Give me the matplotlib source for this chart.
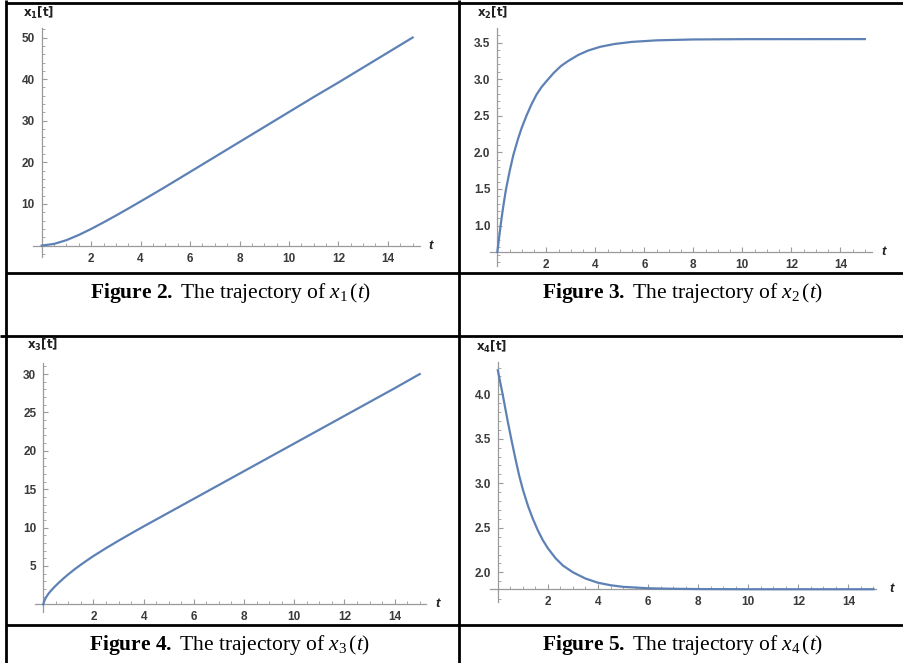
import numpy as np
import matplotlib
matplotlib.use("Agg")
import matplotlib.pyplot as plt
from matplotlib.lines import Line2D
from matplotlib.ticker import FixedLocator

plt.rcParams['mathtext.fontset'] = 'custom'
plt.rcParams['mathtext.rm'] = 'Liberation Serif'
plt.rcParams['mathtext.it'] = 'Liberation Serif:italic'
plt.rcParams['mathtext.bf'] = 'Liberation Serif:bold'

# ---------------- data ----------------
t_x1 = [0, 0.5, 1, 1.5, 2, 2.5, 3, 3.5, 4, 4.5, 5, 6, 7, 8, 9, 10, 11, 12, 13, 14, 15]
x1 = [0, 0.4, 1.3, 2.55, 4.0, 5.57, 7.21, 8.89, 10.61, 12.35, 14.11,
      17.7, 21.3, 24.9, 28.5, 32.1, 35.7, 39.2, 42.8, 46.4, 50.0]

t_x2 = [0, 0.08, 0.16, 0.25, 0.35, 0.5, 0.65, 0.85, 1.0, 1.2, 1.4, 1.6, 1.8, 2.0,
        2.3, 2.6, 2.9, 3.3, 3.7, 4.2, 4.8, 5.5, 6.5, 8, 10, 15]
x2 = [0.64, 0.86, 1.07, 1.28, 1.49, 1.74, 1.96, 2.19, 2.34, 2.51, 2.66, 2.79, 2.89, 2.97,
      3.085, 3.18, 3.25, 3.33, 3.39, 3.442, 3.481, 3.509, 3.53, 3.542, 3.546, 3.547]

t_x3 = [0, 0.05, 0.1, 0.2, 0.3, 0.45, 0.6, 0.8, 1.0, 1.25, 1.5, 1.75, 2, 2.5, 3, 3.5, 4,
        5, 6, 7, 8, 9, 10, 11, 12, 13, 14, 15]
x3 = [0, 0.5, 0.85, 1.35, 1.75, 2.275, 2.755, 3.355, 3.915, 4.565, 5.165, 5.74, 6.29,
      7.315, 8.29, 9.23, 10.15, 11.95, 13.75, 15.55, 17.35, 19.15, 20.95, 22.75, 24.55,
      26.35, 28.15, 30.0]

t_x4 = [0, 0.1, 0.2, 0.3, 0.4, 0.55, 0.7, 0.85, 1.0, 1.2, 1.4, 1.6, 1.8, 2.0, 2.3, 2.6,
        3.0, 3.5, 4.0, 4.5, 5.0, 6, 7, 8, 10, 15]
x4 = [4.27, 4.13, 3.99, 3.84, 3.69, 3.48, 3.28, 3.09, 2.93, 2.75, 2.60, 2.47, 2.36, 2.27,
      2.16, 2.076, 2.00, 1.93, 1.883, 1.855, 1.837, 1.821, 1.815, 1.812, 1.81, 1.81]

x_major = [2, 4, 6, 8, 10, 12, 14]
x_major_labels = ["2", "4", "6", "8", "10", "12", "14"]

y1_major = [10, 20, 30, 40, 50]
y1_labels = ["10", "20", "30", "40", "50"]
y2_major = [1.0, 1.5, 2.0, 2.5, 3.0, 3.5]
y2_labels = ["1.0", "1.5", "2.0", "2.5", "3.0", "3.5"]
y3_major = [5, 10, 15, 20, 25, 30]
y3_labels = ["5", "10", "15", "20", "25", "30"]
y4_major = [2.0, 2.5, 3.0, 3.5, 4.0]
y4_labels = ["2.0", "2.5", "3.0", "3.5", "4.0"]

subs = ["1", "2", "3", "4"]
fig_nums = ["2", "3", "4", "5"]

# ---------------- figure ----------------
W, H = 904, 663
fig = plt.figure(figsize=(W / 100, H / 100), dpi=100)
fig.patch.set_facecolor("white")

LINE = "#5E81B5"
AXC = "#9a9a9a"
TXT = "#3a3a3a"


def hline(y, x0, x1_, lw=2.0):
    fig.add_artist(Line2D([x0 / W, x1_ / W], [1 - y / H, 1 - y / H],
                          transform=fig.transFigure, color="black", lw=lw,
                          solid_capstyle="butt"))


def vline(x, y0, y1_, lw=2.0):
    fig.add_artist(Line2D([x / W, x / W], [1 - y0 / H, 1 - y1_ / H],
                          transform=fig.transFigure, color="black", lw=lw,
                          solid_capstyle="butt"))


def panel(box, xlim, ylim, yaxis_at, t, y, ymaj, ylab, ystep, sub,
          lab_off, t_off):
    l, r, tp, bt = box
    ax = fig.add_axes([l / W, 1 - bt / H, (r - l) / W, (bt - tp) / H])
    ax.set_facecolor("none")
    ax.plot(t, y, color=LINE, lw=1.6, clip_on=False, zorder=3)
    ax.set_xlim(*xlim)
    ax.set_ylim(*ylim)
    for s in ("top", "right"):
        ax.spines[s].set_visible(False)
    ax.spines["left"].set_position(("data", 0))
    ax.spines["bottom"].set_position(("data", yaxis_at))
    for s in ("left", "bottom"):
        ax.spines[s].set_color(AXC)
        ax.spines[s].set_linewidth(0.9)
    ax.xaxis.set_major_locator(FixedLocator(x_major))
    ax.set_xticklabels(x_major_labels, fontweight="bold",
                       family="Liberation Sans", color=TXT, fontsize=8.5)
    ax.xaxis.set_minor_locator(FixedLocator(list(np.arange(0.5, 15.01, 0.5))))
    ax.yaxis.set_major_locator(FixedLocator(ymaj))
    ax.set_yticklabels(ylab, fontweight="bold",
                       family="Liberation Sans", color=TXT, fontsize=8.5)
    lo = np.ceil((ylim[0]) / ystep) * ystep
    mins = [v for v in np.arange(lo, ylim[1], ystep)
            if abs(v - yaxis_at) > ystep * 0.3]
    ax.yaxis.set_minor_locator(FixedLocator(mins))
    ax.tick_params(which="major", direction="in", length=3.8, width=0.8,
                   color=AXC)
    ax.tick_params(which="minor", direction="in", length=2.0, width=0.6,
                   color=AXC)
    ax.tick_params(axis="x", which="major", pad=5)
    ax.tick_params(axis="y", which="major", pad=5)
    ax.annotate(r"$\mathbf{x_{" + sub + r"}[t]}$", xy=(0, 1),
                xycoords=("data", "axes fraction"),
                xytext=lab_off, textcoords="offset pixels",
                ha="center", va="center", fontsize=8.5,
                math_fontfamily="dejavusans", color="#202020")
    ax.annotate("t", xy=(1, yaxis_at), xycoords=("axes fraction", "data"),
                xytext=t_off, textcoords="offset pixels",
                ha="center", va="center", fontsize=9.5, fontweight="bold",
                fontstyle="italic", family="Liberation Sans", color="#202020")
    return ax


# panel boxes in pixels: left, right, top, bottom
panel((32.8, 420.0, 28.0, 256.8), (-0.36, 15.3), (-2.7, 52.3), 0.0,
      t_x1, x1, y1_major, y1_labels, 2.0, subs[0], (-3, 15), (11, 0))
panel((490.0, 872.2, 27.9, 266.0), (-0.3, 15.3), (0.447, 3.70), 0.642,
      t_x2, x2, y2_major, y2_labels, 0.1, subs[1], (-5, 15), (11, 0))
panel((35.2, 426.0, 363.3, 611.7), (-0.32, 15.25), (-0.96, 31.4), 0.0,
      t_x3, x3, y3_major, y3_labels, 1.0, subs[2], (-1, 18), (12, 0))
panel((490.3, 876.0, 361.7, 601.7), (-0.3, 15.1), (1.67, 4.366), 1.809,
      t_x4, x4, y4_major, y4_labels, 0.1, subs[3], (-6, 15), (16, 0))

# ---------------- table lines ----------------
vline(6.5, 0, H)
vline(459.5, 0, H)
hline(2.5, 6.5, W)
hline(273, 6.5, W)
hline(336, 0, W)
hline(625, 6.5, W)

# ---------------- captions ----------------
caps = [(231, 297.7), (683, 297.7), (230, 650), (683, 650)]
for (cx, cy), n, s in zip(caps, fig_nums, subs):
    txt = (r"$\mathbf{Figure\ " + n + r".}\ \mathrm{The\ trajectory\ of}\ x_{"
           + s + r"}\,(t)$")
    fig.text(cx / W, 1 - cy / H, txt, ha="center", va="baseline",
             fontsize=15.5, color="black")

fig.savefig("out.png", dpi=100, facecolor="white")
